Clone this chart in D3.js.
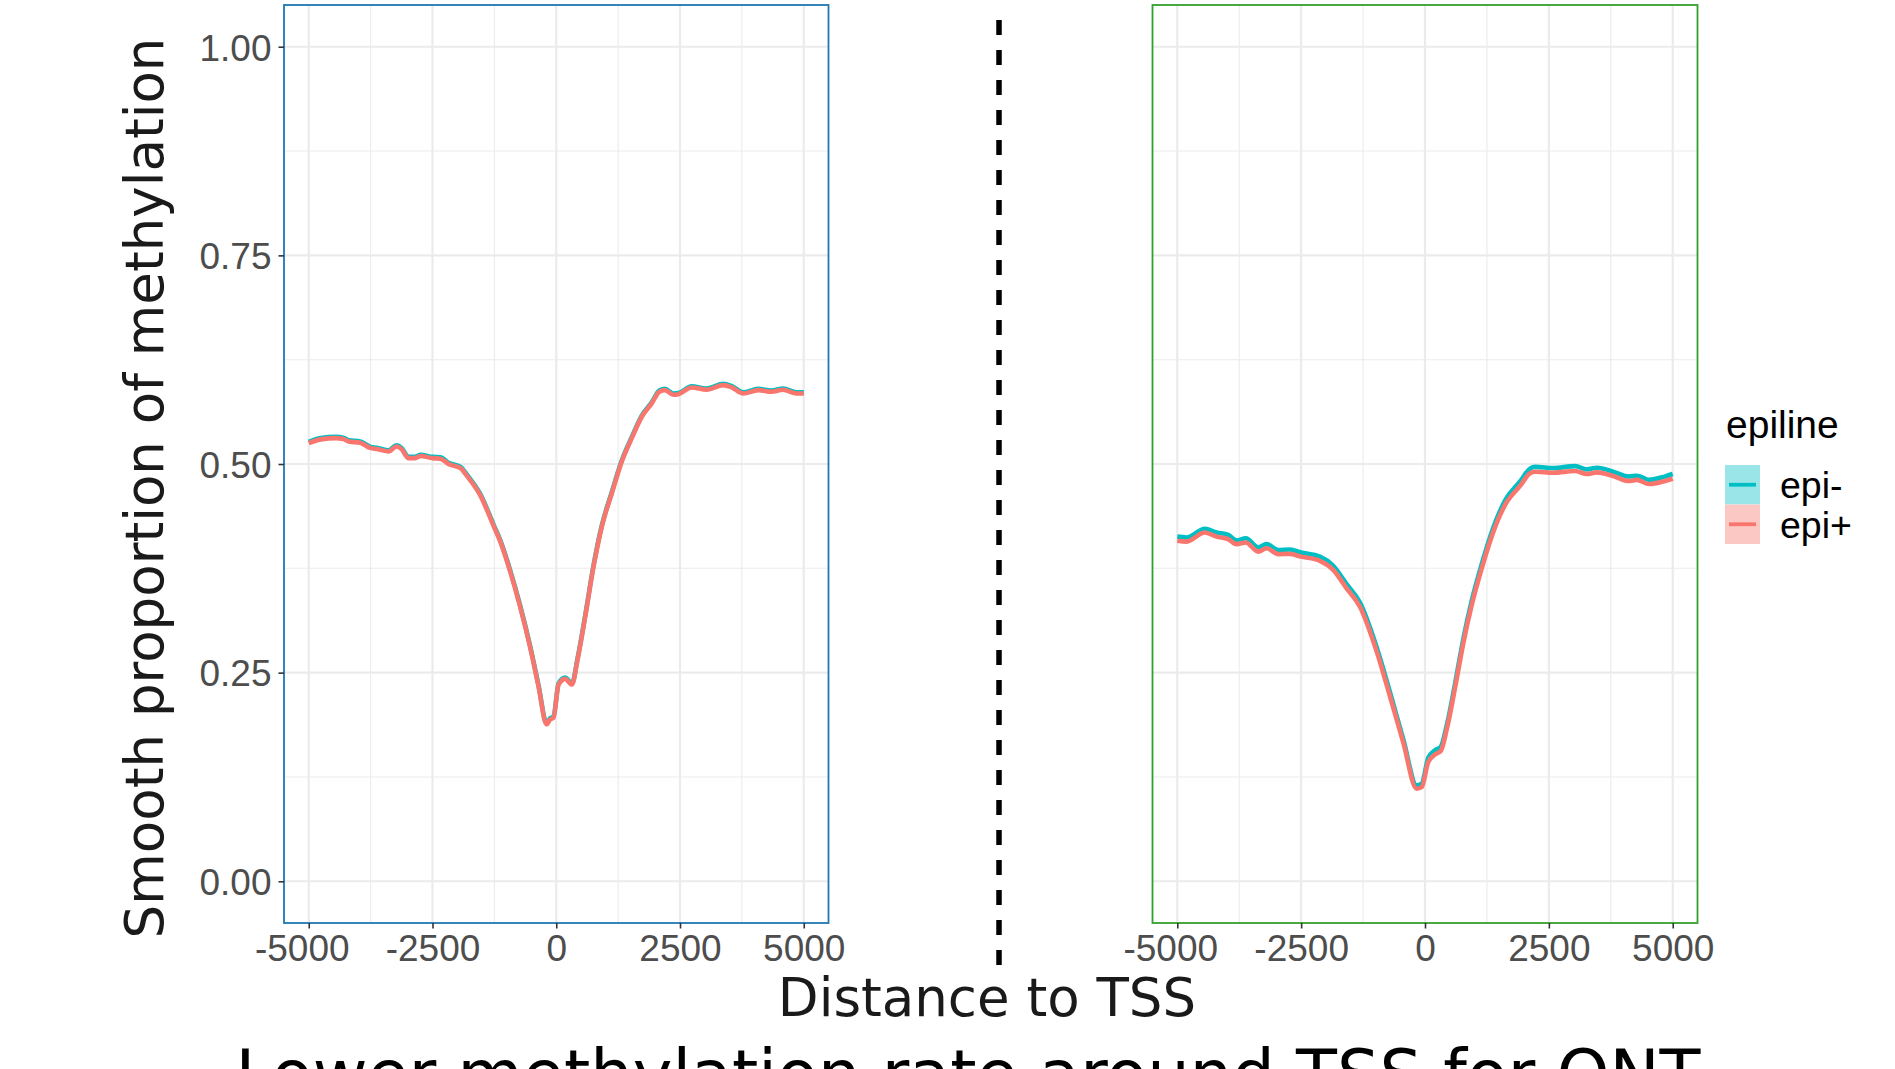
<!DOCTYPE html>
<html>
<head>
<meta charset="utf-8">
<script src="https://cdn.jsdelivr.net/npm/d3@7"></script>
<style>
  body { margin: 0; background: #fff; }
  svg { display: block; }
</style>
</head>
<body>
<div class="chart"></div>
<script>

// distance to TSS (bp) and smoothed methylation
const leftDist = [-5000, -4760, -4455, -4300, -4190, -3960, -3750, -3624, -3380, -3230, -3120, -2985, -2851, -2740, -2500, -2340, -2178, -1935, -1808, -1539, -1260, -1130, -930, -730, -530, -360, -195, -120, -55, 47, 180, 316, 430, 585, 753, 921, 1123, 1324, 1526, 1728, 1929, 2083, 2198, 2366, 2466, 2735, 3038, 3374, 3541, 3777, 4080, 4349, 4583, 4852, 5000];
const leftEpiPlus = [0.525, 0.5295, 0.531, 0.530, 0.527, 0.5255, 0.519, 0.518, 0.515, 0.521, 0.5175, 0.507, 0.507, 0.5096, 0.507, 0.5064, 0.500, 0.495, 0.486, 0.463, 0.425, 0.407, 0.371, 0.329, 0.281, 0.234, 0.188, 0.194, 0.196, 0.2357, 0.2425, 0.2357, 0.2655, 0.317, 0.377, 0.425, 0.465, 0.503, 0.531, 0.5566, 0.5726, 0.5865, 0.5885, 0.583, 0.5837, 0.5917, 0.589, 0.5945, 0.592, 0.5845, 0.5885, 0.5865, 0.589, 0.5845, 0.5845];
const leftEpiMinus = [0.5265, 0.531, 0.5325, 0.5315, 0.5285, 0.527, 0.5205, 0.5195, 0.5165, 0.5225, 0.519, 0.5085, 0.5085, 0.511, 0.5085, 0.508, 0.5015, 0.4965, 0.4875, 0.4645, 0.4265, 0.4085, 0.3725, 0.3305, 0.2825, 0.2355, 0.1895, 0.1955, 0.1975, 0.2372, 0.244, 0.2372, 0.267, 0.3185, 0.3785, 0.4265, 0.4665, 0.5045, 0.5325, 0.558, 0.574, 0.588, 0.590, 0.5845, 0.585, 0.593, 0.5905, 0.596, 0.5935, 0.586, 0.590, 0.588, 0.5905, 0.586, 0.586];

const rightDist = [-5000, -4811, -4444, -4209, -3973, -3805, -3616, -3367, -3199, -2963, -2727, -2505, -2121, -1852, -1582, -1313, -976, -707, -438, -168, -67, 67, 202, 317, 438, 606, 774, 943, 1145, 1380, 1616, 1919, 2121, 2222, 2592, 3030, 3266, 3468, 3838, 4107, 4276, 4525, 4848, 5000];
const rightEpiPlus = [0.408, 0.407, 0.418, 0.413, 0.410, 0.404, 0.406, 0.395, 0.399, 0.392, 0.3923, 0.389, 0.384, 0.3732, 0.351, 0.329, 0.2755, 0.2217, 0.166, 0.111, 0.1128, 0.143, 0.152, 0.156, 0.1818, 0.2317, 0.2855, 0.331, 0.375, 0.419, 0.451, 0.4737, 0.489, 0.4908, 0.4896, 0.4916, 0.488, 0.490, 0.4848, 0.4797, 0.481, 0.476, 0.4797, 0.4824];
const rightEpiMinus = [0.413, 0.412, 0.4225, 0.418, 0.415, 0.4085, 0.411, 0.400, 0.404, 0.397, 0.3975, 0.394, 0.389, 0.378, 0.356, 0.334, 0.2805, 0.2265, 0.170, 0.115, 0.117, 0.148, 0.157, 0.161, 0.1865, 0.2365, 0.2905, 0.336, 0.380, 0.424, 0.456, 0.479, 0.4945, 0.4965, 0.495, 0.4975, 0.4935, 0.4955, 0.490, 0.485, 0.486, 0.481, 0.4852, 0.488];

const xMajor = [-5000, -2500, 0, 2500, 5000];
const xMinor = [-3750, -1250, 1250, 3750];
const yMajor = [0, 0.25, 0.5, 0.75, 1];
const yMinor = [0.125, 0.375, 0.625, 0.875];
const yLabels = ["0.00", "0.25", "0.50", "0.75", "1.00"];

const groups = ["epi-", "epi+"];
const colors = {"epi-": "#00BFC4", "epi+": "#F8766D"};
const keyFills = {"epi-": "#99E5E7", "epi+": "#FCC8C4"};

const width = 1895, height = 1069;
const tickFont = "'Liberation Sans', Arial, sans-serif";
const titleFont = "'DejaVu Sans', sans-serif";

const svg = d3.select(".chart").append("svg")
    .attr("width", width)
    .attr("height", height);

// shared y scale (ggplot default 5% expansion)
const y = d3.scaleLinear().domain([-0.05, 1.05]).range([923, 5]);

function panel(x0, x1, border, dist, plus, minus, showY) {
    const x = d3.scaleLinear().domain([-5500, 5500]).range([x0, x1]);
    const g = svg.append("g");

    g.append("rect")
        .attr("x", x0).attr("y", 5)
        .attr("width", x1 - x0).attr("height", 918)
        .attr("fill", "#fff");

    // minor grid
    g.selectAll(".xmin").data(xMinor).join("line")
        .attr("x1", d => x(d)).attr("x2", d => x(d))
        .attr("y1", 5).attr("y2", 923)
        .attr("stroke", "#EBEBEB").attr("stroke-width", 1.1);
    g.selectAll(".ymin").data(yMinor).join("line")
        .attr("x1", x0).attr("x2", x1)
        .attr("y1", d => y(d)).attr("y2", d => y(d))
        .attr("stroke", "#EBEBEB").attr("stroke-width", 1.1);

    // major grid
    g.selectAll(".xmaj").data(xMajor).join("line")
        .attr("x1", d => x(d)).attr("x2", d => x(d))
        .attr("y1", 5).attr("y2", 923)
        .attr("stroke", "#EBEBEB").attr("stroke-width", 2.2);
    g.selectAll(".ymaj").data(yMajor).join("line")
        .attr("x1", x0).attr("x2", x1)
        .attr("y1", d => y(d)).attr("y2", d => y(d))
        .attr("stroke", "#EBEBEB").attr("stroke-width", 2.2);

    // lines: epi- first, epi+ on top
    const line = d3.line()
        .x((d, i) => x(dist[i]))
        .y(d => y(d))
        .curve(d3.curveMonotoneX);

    [[minus, "epi-"], [plus, "epi+"]].forEach(([vals, grp]) => {
        g.append("path")
            .datum(vals)
            .attr("d", line)
            .attr("fill", "none")
            .attr("stroke", colors[grp])
            .attr("stroke-width", 4.6)
            .attr("stroke-linejoin", "round");
    });

    // border
    g.append("rect")
        .attr("x", x0).attr("y", 5)
        .attr("width", x1 - x0).attr("height", 918)
        .attr("fill", "none")
        .attr("stroke", border)
        .attr("stroke-width", 1.8);

    // x axis
    const xAxis = g.append("g")
        .attr("transform", "translate(0,923)")
        .call(d3.axisBottom(x).tickValues(xMajor).tickSize(5.5).tickPadding(8).tickFormat(d3.format("d")));
    xAxis.select(".domain").remove();
    xAxis.selectAll(".tick line").attr("stroke", "#333333").attr("stroke-width", 1.6);
    xAxis.selectAll(".tick text")
        .attr("y", 38)
        .attr("dy", 0)
        .attr("dx", d => d === -5000 ? -7 : 0)   // the outer label sits a bit left in the original
        .attr("fill", "#4D4D4D")
        .style("font-family", tickFont)
        .style("font-size", "37px")
        .text(d => d === 0 ? "0" : String(d).replace("\u2212", "-"));

    if (showY) {
        const yAxis = g.append("g")
            .attr("transform", `translate(${x0},0)`)
            .call(d3.axisLeft(y).tickValues(yMajor).tickSize(5.5).tickPadding(7).tickFormat((d, i) => yLabels[i]));
        yAxis.select(".domain").remove();
        yAxis.selectAll(".tick line").attr("stroke", "#333333").attr("stroke-width", 1.6);
        yAxis.selectAll(".tick text")
            .attr("dy", "0.36em")
            .attr("fill", "#4D4D4D")
            .style("font-family", tickFont)
            .style("font-size", "37px");
    }
}

panel(284, 828.5, "#1F78B4", leftDist, leftEpiPlus, leftEpiMinus, true);
panel(1152.5, 1697.5, "#33A02C", rightDist, rightEpiPlus, rightEpiMinus, false);

// dashed separator
svg.append("line")
    .attr("x1", 999).attr("x2", 999)
    .attr("y1", 20).attr("y2", 965)
    .attr("stroke", "#000")
    .attr("stroke-width", 5.5)
    .attr("stroke-dasharray", "15,15");

// axis titles
svg.append("text")
    .attr("x", 987).attr("y", 1016)
    .attr("text-anchor", "middle")
    .style("font-family", titleFont)
    .style("font-size", "53px")
    .attr("fill", "#1A1A1A")
    .text("Distance to TSS");

svg.append("text")
    .attr("transform", "translate(163,488) rotate(-90)")
    .attr("text-anchor", "middle")
    .style("font-family", titleFont)
    .style("font-size", "53px")
    .attr("fill", "#1A1A1A")
    .text("Smooth proportion of methylation");

// bottom title (cut off by the frame)
svg.append("text")
    .attr("x", 968).attr("y", 1098)
    .attr("text-anchor", "middle")
    .style("font-family", titleFont)
    .style("font-size", "67px")
    .attr("fill", "#000")
    .text("Lower methylation rate around TSS for ONT");

// legend
const legend = svg.append("g");
legend.append("text")
    .attr("x", 1726).attr("y", 438)
    .style("font-family", tickFont)
    .style("font-size", "39px")
    .attr("fill", "#000")
    .text("epiline");

const keys = legend.selectAll(".key").data(groups).join("g")
    .attr("transform", (d, i) => `translate(1725,${465 + i * 39.5})`);
keys.append("rect")
    .attr("width", 35).attr("height", 39.5)
    .attr("fill", d => keyFills[d]);
keys.append("line")
    .attr("x1", 4).attr("x2", 31)
    .attr("y1", 19.75).attr("y2", 19.75)
    .attr("stroke", d => colors[d])
    .attr("stroke-width", 3.8);
keys.append("text")
    .attr("x", 55).attr("y", 19.75)
    .attr("dy", "0.36em")
    .style("font-family", tickFont)
    .style("font-size", "37.5px")
    .attr("fill", "#000")
    .text(d => d);

</script>
</body>
</html>
